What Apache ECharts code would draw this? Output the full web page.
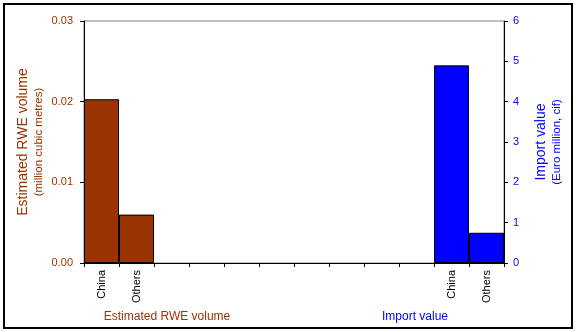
<!DOCTYPE html>
<html>
<head>
<meta charset="utf-8">
<script src="https://cdn.jsdelivr.net/npm/echarts@6/dist/echarts.min.js"></script>
<style>
html,body{margin:0;padding:0;background:#fff;}
#chart{width:577px;height:332px;}
</style>
</head>
<body>
<div id="chart"></div>
<script>
const categories = ['China','Others','','','','','','','','','China','Others'];
const rweVolume = [0.0203, 0.006, null, null, null, null, null, null, null, null, null, null];
const importValue = [null, null, null, null, null, null, null, null, null, null, 4.9, 0.75];
const leftTicks = [0, 0.01, 0.02, 0.03];
const rightTicks = [0, 1, 2, 3, 4, 5, 6];

const FONT = '"Liberation Sans", Arial, sans-serif';
const BROWN = '#993300';
const BLUE = '#0000FF';

const chart = echarts.init(document.getElementById('chart'), null, {renderer: 'canvas'});
chart.setOption({
  animation: false,
  backgroundColor: '#fff',
  textStyle: {fontFamily: FONT},
  grid: {left: 84, right: 73, top: 21, bottom: 69, show: true, borderColor: '#808080', borderWidth: 1, backgroundColor: 'transparent'},
  xAxis: {
    type: 'category',
    data: categories,
    axisLine: {lineStyle: {color: '#000', width: 1}},
    axisTick: {show: true, interval: 0, length: 4, lineStyle: {color: '#000'}},
    axisLabel: {interval: 0, rotate: 90, margin: 7, color: '#000', fontSize: 11, fontFamily: FONT},
    splitLine: {show: false}
  },
  yAxis: [
    {
      type: 'value', position: 'left', min: leftTicks[0], max: leftTicks[leftTicks.length - 1], interval: 0.01,
      axisLine: {show: true, lineStyle: {color: '#000'}},
      axisTick: {show: true, length: 4, lineStyle: {color: '#000'}},
      axisLabel: {color: BROWN, fontSize: 11, margin: 11, fontFamily: FONT, formatter: v => v.toFixed(2)},
      splitLine: {show: false},
      name: '{a|Estimated RWE volume}\n{b|(million cubic metres)}',
      nameLocation: 'middle', nameRotate: 90, nameGap: 38, nameMoveOverlap: false,
      nameTextStyle: {
        color: BROWN, align: 'center',
        rich: {
          a: {fontSize: 14, color: BROWN, fontFamily: FONT, lineHeight: 15},
          b: {fontSize: 11.5, color: BROWN, fontFamily: FONT, lineHeight: 15}
        }
      }
    },
    {
      type: 'value', position: 'right', min: rightTicks[0], max: rightTicks[rightTicks.length - 1], interval: 1,
      axisLine: {show: true, lineStyle: {color: '#000'}},
      axisTick: {show: true, length: 4, lineStyle: {color: '#000'}},
      axisLabel: {color: BLUE, fontSize: 11, margin: 9, fontFamily: FONT},
      splitLine: {show: false},
      name: '{a|Import value}\n{b|(Euro million, cif)}',
      nameLocation: 'middle', nameRotate: 90, nameGap: 30, nameMoveOverlap: false,
      nameTextStyle: {
        color: BLUE, align: 'center',
        rich: {
          a: {fontSize: 14, color: BLUE, fontFamily: FONT, lineHeight: 15},
          b: {fontSize: 11.5, color: BLUE, fontFamily: FONT, lineHeight: 15}
        }
      }
    }
  ],
  series: [
    {
      name: 'Estimated RWE volume', type: 'bar', yAxisIndex: 0, data: rweVolume,
      barGap: '-100%', barCategoryGap: 0,
      itemStyle: {color: BROWN, borderColor: '#000', borderWidth: 1}
    },
    {
      name: 'Import value', type: 'bar', yAxisIndex: 1, data: importValue,
      barGap: '-100%', barCategoryGap: 0,
      itemStyle: {color: BLUE, borderColor: '#000', borderWidth: 1}
    }
  ],
  graphic: [
    {type: 'rect', shape: {x: 4, y: 4, width: 568, height: 324}, style: {fill: 'none', stroke: '#000', lineWidth: 2}, silent: true},
    {type: 'text', x: 167, y: 317, style: {text: 'Estimated RWE volume', fill: BROWN, font: '12px ' + FONT, textAlign: 'center', textVerticalAlign: 'middle'}},
    {type: 'text', x: 415, y: 317, style: {text: 'Import value', fill: BLUE, font: '12px ' + FONT, textAlign: 'center', textVerticalAlign: 'middle'}}
  ]
});
</script>
</body>
</html>
